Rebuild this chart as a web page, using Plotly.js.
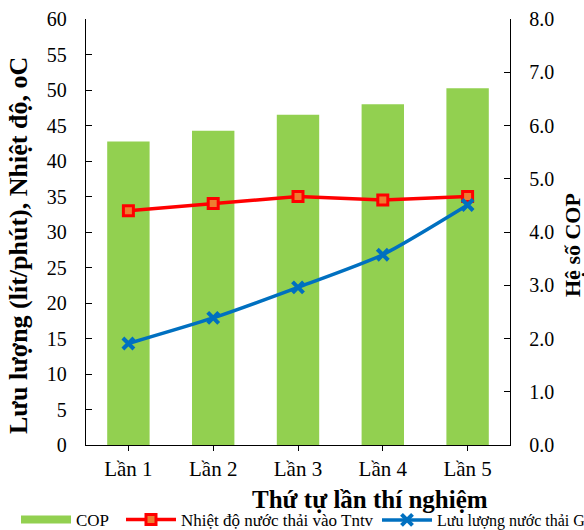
<!DOCTYPE html>
<html>
<head>
<meta charset="utf-8">
<script src="https://cdn.plot.ly/plotly-3.0.1.min.js"></script>
<style>
  html, body { margin: 0; padding: 0; background: #fff; overflow: hidden; }
  #chart { width: 584px; height: 530px; }
</style>
</head>
<body>
<div id="chart"></div>
<script>
// Test runs
const categories = ['Lần 1', 'Lần 2', 'Lần 3', 'Lần 4', 'Lần 5'];
// Coefficient of performance (right axis)
const copValues = [5.7, 5.9, 6.2, 6.4, 6.7];
// Inlet waste-water temperature, °C (left axis)
const tempValues = [33.0, 34.0, 35.0, 34.5, 35.0];
// Waste-water flow rate, l/min (left axis)
const flowValues = [14.3, 17.9, 22.2, 26.8, 33.8];

const leftTicks = [0, 5, 10, 15, 20, 25, 30, 35, 40, 45, 50, 55, 60];
const rightTicks = [0, 1, 2, 3, 4, 5, 6, 7, 8];

const FONT = '"Liberation Serif", "Times New Roman", serif';
const GREEN = '#92D050';
const RED = '#FF0000';
const BLUE = '#0070C0';

const traces = [
  // wide swatch standing for the COP bars in the legend row
  {
    type: 'scatter', mode: 'lines', x: [null], y: [null],
    name: 'COP', yaxis: 'y2', hoverinfo: 'skip', legend: 'legend',
    line: { color: GREEN, width: 8 }
  },
  {
    type: 'bar', x: categories, y: copValues, name: 'COP',
    yaxis: 'y', marker: { color: GREEN }, showlegend: false
  },
  {
    type: 'scatter', mode: 'lines+markers', x: categories, y: tempValues,
    name: 'Nhiệt độ nước thải vào Tntv', yaxis: 'y2', legend: 'legend2',
    line: { color: RED, width: 3.5 },
    marker: { symbol: 'square', size: 10, color: '#ED7D31', line: { color: RED, width: 3 } }
  },
  {
    type: 'scatter', mode: 'lines+markers', x: categories, y: flowValues,
    name: 'Lưu lượng nước thải G', yaxis: 'y2', legend: 'legend3',
    line: { color: BLUE, width: 3.5, shape: 'spline', smoothing: 0.6 },
    marker: { symbol: 'x-thin', size: 11, color: BLUE, line: { color: BLUE, width: 4 } }
  }
];

function legendAt(px, size) {
  return {
    orientation: 'h', xref: 'container', yref: 'container',
    x: px / 584, y: 10 / 530, xanchor: 'left', yanchor: 'middle',
    font: { family: FONT, size: size, color: '#000' },
    itemwidth: 50, borderwidth: 0, bgcolor: 'rgba(0,0,0,0)'
  };
}

const layout = {
  width: 584, height: 530,
  margin: { l: 86, r: 74, t: 19, b: 85 },
  paper_bgcolor: '#fff', plot_bgcolor: '#fff',
  font: { family: FONT, color: '#000', size: 20 },
  bargap: 0.5,
  showlegend: true,
  legend: legendAt(16, 17),
  legend2: legendAt(121, 17),
  legend3: legendAt(377, 16),
  xaxis: {
    type: 'category', range: [-0.5, 4.5],
    showline: true, linecolor: '#000', linewidth: 1.2,
    ticks: 'outside', ticklen: 5, tickcolor: '#000',
    tickfont: { family: FONT, size: 21 },
    showgrid: false, zeroline: false
  },
  // COP on the right
  yaxis: {
    side: 'right', range: [0, 8], tickvals: rightTicks,
    tickformat: '.1f',
    showline: true, linecolor: '#000', linewidth: 1.2,
    ticks: 'inside', ticklen: 6, tickcolor: '#000',
    ticklabelstandoff: 14,
    tickfont: { family: FONT, size: 20 },
    showgrid: false, zeroline: false
  },
  // flow and temperature on the left
  yaxis2: {
    overlaying: 'y', side: 'left', range: [0, 60], tickvals: leftTicks,
    showline: true, linecolor: '#000', linewidth: 1.2,
    ticks: 'inside', ticklen: 6, tickcolor: '#000',
    ticklabelstandoff: 14,
    tickfont: { family: FONT, size: 20 },
    showgrid: false, zeroline: false
  },
  annotations: [
    {
      xref: 'paper', yref: 'paper', x: 0.67, y: -0.129,
      xanchor: 'center', yanchor: 'middle', showarrow: false,
      text: '<b>Thứ tự lần thí nghiệm</b>',
      font: { family: FONT, size: 25, color: '#000' }
    },
    {
      xref: 'paper', yref: 'paper', x: (18 - 86) / 424, y: (445 - 246) / 426,
      xanchor: 'center', yanchor: 'middle', textangle: -90, showarrow: false,
      text: '<b>Lưu lượng (lít/phút), Nhiệt độ, oC</b>',
      font: { family: FONT, size: 26, color: '#000' }
    },
    {
      xref: 'paper', yref: 'paper', x: (572 - 86) / 424, y: (445 - 245) / 426,
      xanchor: 'center', yanchor: 'middle', textangle: -90, showarrow: false,
      text: '<b>Hệ số COP</b>',
      font: { family: FONT, size: 22, color: '#000' }
    }
  ]
};

Plotly.newPlot('chart', traces, layout, { displayModeBar: false, staticPlot: true });
</script>
</body>
</html>
